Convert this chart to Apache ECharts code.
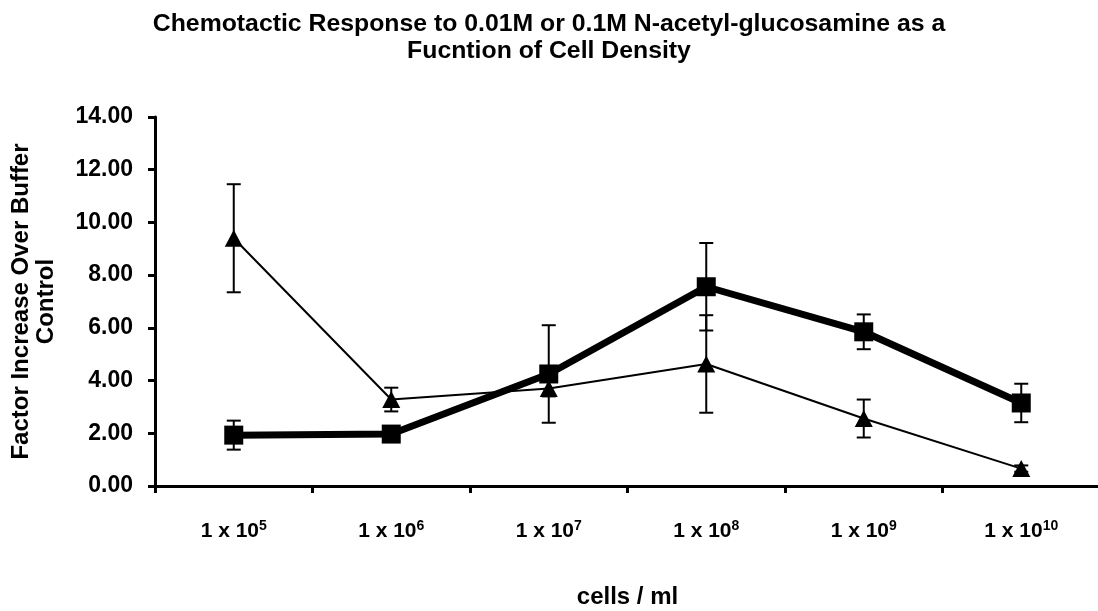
<!DOCTYPE html>
<html>
<head>
<meta charset="utf-8">
<script src="https://cdn.jsdelivr.net/npm/echarts@6/dist/echarts.min.js"></script>
<style>
  html, body { margin: 0; padding: 0; background: #fff; }
  #chart { width: 1098px; height: 611px; }
</style>
</head>
<body>
<div id="chart"></div>
<script>
// 数据
const categories = ['5', '6', '7', '8', '9', '10'];   // 1 x 10^n cells/ml
const squareValues = [1.93, 1.97, 4.25, 7.56, 5.85, 3.15];
const squareErrors = [0.55, 0.12, 1.85, 1.66, 0.66, 0.73];
const triangleValues = [9.40, 3.28, 3.70, 4.63, 2.56, 0.66];
const triangleErrors = [2.05, 0.45, 0.30, 1.85, 0.72, 0.12];

const font = 'Liberation Sans, Arial, sans-serif';

function errorData(vals, errs) {
    return vals.map((v, i) => [i, v - errs[i], v + errs[i]]);
}

// 误差线
function renderError(params, api) {
    const lo = api.coord([api.value(0), api.value(1)]);
    const hi = api.coord([api.value(0), api.value(2)]);
    const half = 7;
    const style = { stroke: '#000', lineWidth: 2 };
    return {
        type: 'group',
        children: [
            { type: 'line', shape: { x1: lo[0], y1: lo[1], x2: hi[0], y2: hi[1] }, style: style },
            { type: 'line', shape: { x1: lo[0] - half, y1: lo[1], x2: lo[0] + half, y2: lo[1] }, style: style },
            { type: 'line', shape: { x1: hi[0] - half, y1: hi[1], x2: hi[0] + half, y2: hi[1] }, style: style }
        ]
    };
}

const chart = echarts.init(document.getElementById('chart'));
chart.setOption({
    animation: false,
    backgroundColor: '#fff',
    title: {
        text: 'Chemotactic Response to 0.01M or 0.1M N-acetyl-glucosamine as a\nFucntion of Cell Density',
        left: 'center',
        top: 6,
        textStyle: {
            fontFamily: font,
            fontWeight: 'bold',
            fontSize: 24.8,
            lineHeight: 27,
            color: '#000'
        }
    },
    grid: {
        left: 155,
        right: -2,
        top: 117,
        bottom: 125,
        containLabel: false,
        outerBoundsMode: 'none'
    },
    xAxis: {
        type: 'category',
        data: categories,
        boundaryGap: true,
        name: 'cells / ml',
        nameLocation: 'middle',
        nameGap: 99,
        nameTextStyle: { fontFamily: font, fontWeight: 'bold', fontSize: 24, color: '#000' },
        axisLine: { lineStyle: { color: '#000', width: 3 } },
        axisTick: { show: true, length: 7, lineStyle: { color: '#000', width: 3 } },
        axisLabel: {
            margin: 33,
            formatter: function (v) { return '{b|1 x 10}{sup|' + v + '}'; },
            rich: {
                b: { fontFamily: font, fontWeight: 'bold', fontSize: 21, color: '#000' },
                sup: { fontFamily: font, fontWeight: 'bold', fontSize: 14, color: '#000', padding: [0, 0, 10, 0] }
            }
        },
        splitLine: { show: false }
    },
    yAxis: {
        type: 'value',
        min: 0,
        max: 14,
        interval: 2,
        name: 'Factor Increase Over Buffer\nControl',
        nameLocation: 'middle',
        nameGap: 96,
        nameTextStyle: { fontFamily: font, fontWeight: 'bold', fontSize: 24, lineHeight: 25, color: '#000' },
        axisLine: { show: true, lineStyle: { color: '#000', width: 3 } },
        axisTick: { show: true, length: 7, lineStyle: { color: '#000', width: 3 } },
        axisLabel: {
            margin: 22,
            formatter: v => v.toFixed(2),
            fontFamily: font,
            fontWeight: 'bold',
            fontSize: 23,
            color: '#000'
        },
        splitLine: { show: false }
    },
    series: [
        {
            name: 'triangle-err',
            type: 'custom',
            renderItem: renderError,
            data: errorData(triangleValues, triangleErrors),
            z: 2
        },
        {
            name: 'square-err',
            type: 'custom',
            renderItem: renderError,
            data: errorData(squareValues, squareErrors),
            z: 2
        },
        {
            name: '0.01M',
            type: 'line',
            data: triangleValues,
            symbol: 'triangle',
            symbolSize: [18, 17],
            lineStyle: { color: '#000', width: 2 },
            itemStyle: { color: '#000' },
            z: 3
        },
        {
            name: '0.1M',
            type: 'line',
            data: squareValues,
            symbol: 'rect',
            symbolSize: 19,
            lineStyle: { color: '#000', width: 7 },
            itemStyle: { color: '#000' },
            z: 4
        }
    ]
});
</script>
</body>
</html>
